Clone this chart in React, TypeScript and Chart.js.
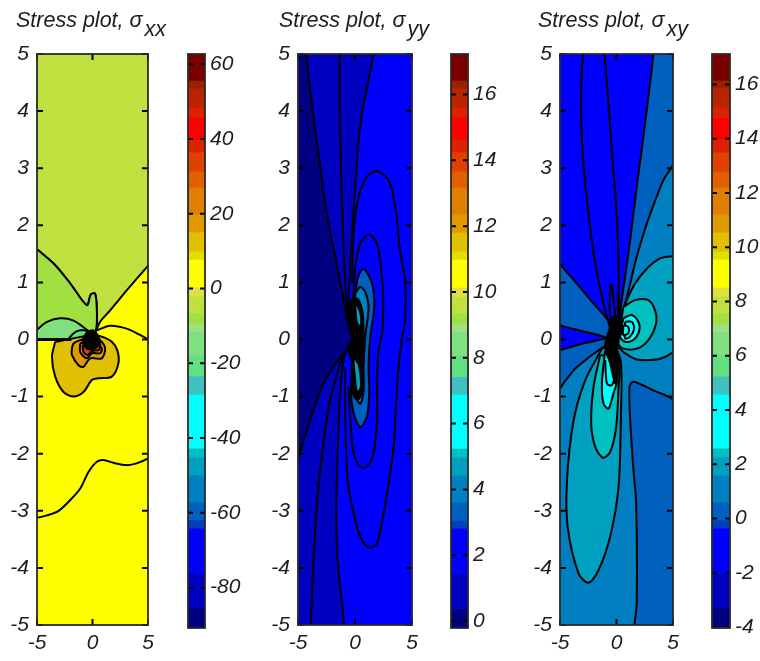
import React, { useEffect, useRef } from "react";
import { Chart, registerables } from "chart.js";

Chart.register(...registerables);

type P = number[][];

const axisTicks = [-5, -4, -3, -2, -1, 0, 1, 2, 3, 4, 5];
const xAxisTicks = [-5, 0, 5];

const barColors = ["#7a0000","#9a2000","#bb2200","#dd2200","#ff0000","#dd2200","#e04000","#e06000","#e08000","#e09a00","#e0c000","#e0e000","#ffff00","#e0e040","#c0e040","#a0e040","#a0e080","#80e080","#60e080","#40c0c0","#00ffff","#00c0c0","#00a0c0","#0080c0","#0060c0","#0040c0","#0000ff","#0000c0","#000080"];
const xxEdges = [62.75,55.7,53.6,48.5,45.8,39.9,36.5,31.4,27.1,19.9,15.1,10,7.8,0.36,-2.05,-6.6,-9.3,-11.4,-17.8,-23.4,-28.3,-42.7,-45.1,-49.9,-57.1,-61.9,-64.1,-76.1,-85.5,-90.8];
const yyEdges = [17.23,16.43,16.19,15.61,15.31,14.64,14.25,13.67,13.18,12.36,11.81,11.24,10.99,10.14,9.86,9.35,9.04,8.8,8.07,7.43,6.89,5.25,4.98,4.43,3.61,3.06,2.82,1.45,0.38,-0.21];
const xyEdges = [17.12,16.15,15.85,15.15,14.78,13.97,13.49,12.79,12.2,11.21,10.55,9.85,9.55,8.52,8.19,7.56,7.19,6.9,6.01,5.24,4.58,2.59,2.26,1.59,0.6,-0.06,-0.36,-2.02,-3.31,-4.04];
const xxBarTicks = [60,40,20,0,-20,-40,-60,-80];
const yyBarTicks = [16,14,12,10,8,6,4,2,0];
const xyBarTicks = [16,14,12,10,8,6,4,2,0,-2,-4];

const backdrop: P = [[-7,-7],[7,-7],[7,7],[-7,7]];

// sigma xx
const xxOlive: P = [[-6,1.75],[-5,1.58],[-3.5,1.33],[-2,0.98],[-0.51,0.6],[-0.15,0.79],[0.24,0.8],[0.39,0.51],[0.33,0.19],[0.1,0.05],[0.69,0.31],[1.59,0.51],[3.08,0.86],[5,1.29],[6,1.51],[6,7],[-6,7]];
const xxGreen: P = [[-6,0],[-3,0],[-0.2,0.02],[0.33,0.19],[0.39,0.51],[0.24,0.8],[-0.15,0.79],[-0.51,0.6],[-2,0.98],[-3.5,1.33],[-5,1.58],[-6,1.75]];
const xxDome: P = [[-6,0.05],[-5,0.176],[-4.1,0.31],[-2.9,0.37],[-1.7,0.33],[-0.66,0.19],[-0.06,0.08],[-1,0],[-3,0],[-6,0]];
const xxDomeInner: P = [[-2.2,0],[-1.7,0.11],[-1.1,0.16],[-0.36,0.14],[0,0.05],[-1,0]];
const xxUpperArc: P = [[0.39,0.16],[1.59,0.24],[3.08,0.19],[4.28,0.08],[5,0],[6,-0.1]];
const xxLowerCurve: P = [[-6,-3.14],[-5,-3.12],[-4.1,-3.08],[-3.05,-3],[-2,-2.81],[-1.1,-2.61],[-0.36,-2.32],[0.39,-2.14],[0.99,-2.11],[1.89,-2.16],[3.08,-2.2],[3.98,-2.17],[5,-2.08],[6,-1.95]];
const xxGold: P = [[-3.36,-0.04],[-3.65,-0.3],[-3.36,-0.65],[-2.61,-0.92],[-1.71,-1],[-0.81,-0.92],[-0.06,-0.71],[0.53,-0.68],[1.74,-0.65],[2.33,-0.42],[2.24,-0.19],[1.74,-0.04],[0.84,0.05],[0.09,0.08]];
const xxAmber: P = [[-1.86,-0.16],[-1.86,-0.27],[-1.26,-0.45],[-0.81,-0.48],[-0.21,-0.33],[0.84,-0.33],[1.14,-0.16],[0.84,-0.04],[0.24,0.04],[-0.36,0.02],[-1.11,-0.01],[-1.71,-0.07]];
const xxOrange: P = [[-1.11,-0.07],[-1.11,-0.22],[-0.51,-0.33],[-0.06,-0.24],[0.69,-0.24],[0.84,-0.16],[0.39,-0.04],[-0.36,-0.01]];
const xxRed: P = [[-0.9,-0.1],[-0.8,-0.22],[-0.45,-0.27],[0,-0.2],[0.6,-0.18],[0.6,-0.06]];
const xxBlob: P = [[-0.81,0.02],[-0.51,0.12],[0.09,0.16],[0.53,0.05],[0.69,-0.04],[0.39,-0.13],[-0.06,-0.17],[-0.51,-0.16],[-0.81,-0.07]];
const xxStep: P = [[-6,0],[-1.9,0]];

// sigma yy
const yyDark: P = [[-6,7],[3.5,7],[2.6,6],[1.64,5],[1.2,4.54],[0.76,4.13],[0.32,3.49],[0.03,2.67],[-0.26,1.86],[-0.47,1.1],[-0.56,0.4],[-0.26,0.02],[-0.94,-0.3],[-1.29,-0.95],[-1.52,-2],[-1.64,-3.05],[-1.52,-3.86],[-1.14,-4.62],[-0.94,-5],[-0.7,-6],[-0.7,-7],[-6,-7]];
const yyNavy: P = [[-6,7],[-4.5,6],[-4.27,5],[-3.92,4.36],[-3.48,3.66],[-3.04,3.02],[-2.46,2.2],[-1.73,1.45],[-0.99,0.69],[-0.64,0.34],[-0.26,0.02],[-0.76,-0.18],[-2.02,-0.51],[-2.89,-0.83],[-3.92,-1.41],[-4.94,-2.05],[-6,-2.8]];
const yyMiddleTop: P = [[-1.35,6],[-1.35,5],[-1.35,4.19],[-1.23,3.02],[-1.05,1.86],[-0.76,0.69],[-0.5,0.3]];
const yyMiddleLow: P = [[-0.7,-0.2],[-1.14,-0.33],[-1.73,-0.71],[-2.31,-1.18],[-2.89,-2],[-3.33,-2.87],[-3.68,-4.04],[-3.86,-5],[-3.95,-6]];
const yyOuterLobe: P = [[-0.26,0.99],[-0.12,1.86],[0.32,2.5],[1.05,2.85],[1.93,2.95],[2.95,2.79],[3.54,2.32],[3.91,1.62],[4.41,0.99],[4.41,0.39],[3.97,-0.19],[3.71,-0.76],[3.54,-1.36],[3.36,-1.94],[2.66,-2.87],[1.93,-3.57],[1.19,-3.64],[0.46,-3.45],[-0.12,-3.04],[-0.65,-2.46],[-0.85,-1.41],[-0.85,-0.48]];
const yyMidLobe: P = [[-0.18,0.69],[0.03,1.27],[0.46,1.68],[1.19,1.84],[1.93,1.68],[2.31,1.21],[2.48,0.69],[2.39,0.16],[2.04,-0.24],[1.93,-0.8],[1.93,-1.41],[1.63,-1.99],[1.05,-2.23],[0.46,-2.23],[-0.12,-1.99],[-0.41,-1.41],[-0.56,-0.83]];
const yyBlueLobe: P = [[0.03,0.72],[0.23,1.07],[0.75,1.24],[1.49,0.98],[1.69,0.57],[1.34,0.05],[1.19,-0.48],[1.25,-0.94],[1.05,-1.35],[0.46,-1.53],[-0.12,-1.29],[-0.35,-0.89]];
const yyTealLobe: P = [[0.03,0.81],[0.46,0.92],[0.9,0.83],[1.19,0.57],[0.9,0.05],[0.75,-0.48],[0.75,-0.89],[0.46,-1.12],[-0.12,-0.94],[-0.26,-0.77]];
const yyBlob: P = [[-0.26,0.02],[-0.7,0.37],[-0.7,0.57],[-0.12,0.72],[0.32,0.69],[0.67,0.46],[0.75,0.16],[0.75,-0.13],[0.7,-0.42],[0.61,-0.76],[0.61,-0.94],[0.18,-1.06],[-0.26,-0.89],[-0.26,-0.74],[-0.12,-0.51],[-0.41,-0.3],[-0.56,-0.19]];
const yySpeckTop: P = [[0.1,0.6],[0.4,0.45],[0.45,0.25],[0.25,0.3],[0.15,0.45]];
const yySpeckLow: P = [[-0.05,-0.35],[0.25,-0.45],[0.45,-0.8],[0.25,-0.9],[0.05,-0.6]];

// sigma xy
const xyUpper: P = [[-6,7],[6,7],[6,3.4],[5,3.05],[4.15,2.79],[3.56,2.5],[2.68,2.03],[1.79,1.45],[1.21,0.98],[0.62,0.51],[0.18,0.25],[-0.2,-0.05],[-1.15,-0.13],[-3.5,-0.48],[-4.24,-0.65],[-5,-0.86],[-6,-1.3]];
const xyLowerRight: P = [[6,-1.3],[5,-1.05],[3.26,-0.89],[1.5,-0.74],[1.15,-0.83],[1.21,-1.41],[1.5,-2.29],[1.74,-2.87],[1.79,-4.62],[1.59,-5],[1.5,-6],[6,-7]];
const xyWedge: P = [[-6,1.75],[-6,7],[3.85,7],[3.26,5],[2.82,4.25],[2.38,3.55],[1.79,2.67],[1.21,1.74],[0.76,1.1],[0.32,0.51],[0.03,0.19],[-0.4,0.1],[-0.56,0.28],[-2.03,0.63],[-3.5,0.98],[-5,1.33]];
const xyTriangle: P = [[-6,0.38],[-5,0.25],[-3.5,0.17],[-1,0.03],[-3,-0.07],[-5,-0.19],[-6,-0.27]];
const xyRay1: P = [[-2.9,6],[-2.97,5],[-3.12,4.48],[-3.06,3.49],[-2.62,2.44],[-1.88,1.33],[-1,0.51],[-0.56,0.19]];
const xyRay2: P = [[-1.3,6],[-1.06,5],[-0.85,4.48],[-0.41,3.31],[0.03,2.14],[0.18,1.27],[0.18,0.51]];
const xySpike: P = [[-0.6,0.4],[-0.56,0.95],[-0.41,0.95],[-0.12,0.41]];
const xyStem: P = [[0.17,0.81],[0.17,0.4]];
const xyRightLobe: P = [[6,1.46],[5,1.46],[3.85,1.42],[2.68,1.24],[1.65,0.98],[0.91,0.69],[0.32,0.4],[0.03,0.19],[0.03,-0.1],[0.32,-0.16],[0.62,-0.22],[1.79,-0.35],[3.56,-0.35],[4.44,-0.29],[5,-0.22],[6,-0.1]];
const xyRightCore: P = [[0.61,0.57],[1.65,0.69],[2.82,0.69],[3.41,0.51],[3.5,0.28],[2.82,-0.01],[1.8,-0.16],[0.61,-0.16],[0.17,-0.07]];
const xyRightCyan: P = [[0.61,0.37],[1.35,0.43],[1.94,0.31],[2.02,0.16],[1.5,-0.01],[0.76,-0.04],[0.32,0.05]];
const xyRightRing1: P = [[0.76,0.31],[1.35,0.31],[1.56,0.19],[1.2,0.05],[0.76,0.02]];
const xyRightRing2: P = [[0.61,0.25],[1.05,0.22],[1.05,0.11],[0.6,0.08]];
const xyLowLobe: P = [[-1.29,-0.16],[-2.76,-0.71],[-3.79,-1.41],[-4.38,-2.46],[-4.32,-3.28],[-3.35,-4.1],[-2.47,-4.26],[-1.59,-4.04],[-0.56,-3.45],[0.18,-2.58],[0.38,-1.41],[0.38,-0.39],[-0.26,-0.13]];
const xyLowCore: P = [[-1.44,-0.27],[-2.03,-0.83],[-2.24,-1.47],[-1.88,-1.88],[-1.21,-2.07],[-0.56,-1.97],[-0.03,-1.53],[0.18,-0.83],[0.18,-0.36]];
const xyLowCyan: P = [[-1,-0.19],[-1.29,-0.77],[-1.15,-1.12],[-0.71,-1.21],[-0.27,-0.94],[0.03,-0.71]];
const xyLowRing: P = [[-1,-0.36],[-0.85,-0.77],[-0.41,-0.8],[0.03,-0.54]];
const xyBlob: P = [[-0.56,0.37],[0.17,0.4],[0.47,0.25],[0.56,0.16],[0.17,0.02],[0.03,-0.13],[0.26,-0.42],[0.08,-0.65],[-0.12,-0.77],[-0.56,-0.42],[-1,-0.1],[-0.8,0.08],[-0.56,0.22]];

type Layer = { pts: P; fill?: string; width?: number; open?: boolean; noLine?: boolean };

const xxLayers: Layer[] = [
  { pts: backdrop, fill: "#ffff00", noLine: true },
  { pts: xxOlive, fill: "#c0e040" },
  { pts: xxGreen, fill: "#a0e040" },
  { pts: xxDome, fill: "#80e080" },
  { pts: xxDomeInner, fill: "#60e080" },
  { pts: xxUpperArc, open: true },
  { pts: xxLowerCurve, open: true },
  { pts: xxGold, fill: "#e0c000" },
  { pts: xxAmber, fill: "#e09a00" },
  { pts: xxOrange, fill: "#e08000" },
  { pts: xxRed, fill: "#e04000" },
  { pts: xxBlob, fill: "#000000" },
  { pts: xxStep, open: true, width: 3.2 },
];

const yyLayers: Layer[] = [
  { pts: backdrop, fill: "#0000ff", noLine: true },
  { pts: yyDark, fill: "#0000c0" },
  { pts: yyNavy, fill: "#000080" },
  { pts: yyMiddleTop, open: true },
  { pts: yyMiddleLow, open: true },
  { pts: yyOuterLobe, open: true },
  { pts: yyMidLobe, open: true },
  { pts: yyBlueLobe, fill: "#0060c0" },
  { pts: yyTealLobe, fill: "#0080c0" },
  { pts: yyBlob, fill: "#000000" },
  { pts: yySpeckTop, fill: "#00a0c0", noLine: true },
  { pts: yySpeckLow, fill: "#00a0c0", noLine: true },
];

const xyLayers: Layer[] = [
  { pts: backdrop, fill: "#0080c0", noLine: true },
  { pts: xyUpper, fill: "#0060c0" },
  { pts: xyLowerRight, fill: "#0060c0" },
  { pts: xyWedge, fill: "#0000ff" },
  { pts: xyTriangle, fill: "#0000ff" },
  { pts: xyRay1, open: true },
  { pts: xyRay2, open: true },
  { pts: xySpike, open: true },
  { pts: xyRightLobe, fill: "#00a0c0" },
  { pts: xyRightCore, fill: "#00c0c0" },
  { pts: xyRightCyan, fill: "#00ffff" },
  { pts: xyRightRing1, fill: "#00ffff" },
  { pts: xyRightRing2, fill: "#00ffff" },
  { pts: xyLowLobe, fill: "#00a0c0" },
  { pts: xyLowCore, fill: "#00c0c0" },
  { pts: xyLowCyan, fill: "#00ffff" },
  { pts: xyLowRing, open: true },
  { pts: xyBlob, fill: "#000000" },
  { pts: xyStem, open: true, width: 3.2 },
];

const FONT = "'Liberation Sans', Arial, sans-serif";
const TEXT = "#1c1c1c";
const FRAME = "#2a2a2a";
const tickFont = { family: FONT, size: 21, style: "italic" as const };

function frameTicks(len: number, xs: number[] | null) {
  return {
    id: "frameTicks",
    afterDraw(chart: any) {
      const { ctx, chartArea: a, scales } = chart;
      ctx.save();
      ctx.strokeStyle = "#000";
      ctx.lineWidth = 2;
      ctx.beginPath();
      for (const t of scales.y.ticks) {
        const p = scales.y.getPixelForValue(t.value);
        ctx.moveTo(a.left, p); ctx.lineTo(a.left + len, p);
        ctx.moveTo(a.right, p); ctx.lineTo(a.right - len, p);
      }
      if (xs) for (const v of xs) {
        const p = scales.x.getPixelForValue(v);
        ctx.moveTo(p, a.top); ctx.lineTo(p, a.top + len);
        ctx.moveTo(p, a.bottom); ctx.lineTo(p, a.bottom - len);
      }
      ctx.stroke();
      ctx.strokeStyle = FRAME;
      ctx.lineWidth = 1.8;
      ctx.strokeRect(a.left, a.top, a.right - a.left, a.bottom - a.top);
      ctx.restore();
    },
  };
}

const setTicks = (vals: number[]) => (s: any) => { s.ticks = vals.map((value) => ({ value })); };

function ContourPanel({ left, width, plotLeft, plotRight, layers }: { left: number; width: number; plotLeft: number; plotRight: number; layers: Layer[] }) {
  const ref = useRef<HTMLCanvasElement>(null);
  useEffect(() => {
    const datasets = layers.map((l) => {
      const data = (l.open ? l.pts : [...l.pts, l.pts[0]]).map(([x, y]) => ({ x, y }));
      return {
        data,
        showLine: true,
        tension: 0.3,
        capBezierPoints: false,
        pointRadius: 0,
        clip: 0,
        fill: l.fill ? "shape" : false,
        backgroundColor: l.fill ?? "transparent",
        borderColor: l.noLine ? "transparent" : "#000000",
        borderWidth: l.noLine ? 0 : l.width ?? 2,
      };
    }).reverse();
    const chart = new Chart(ref.current!, {
      type: "scatter",
      data: { datasets } as any,
      plugins: [frameTicks(6, xAxisTicks)],
      options: {
        animation: false,
        responsive: false,
        events: [],
        layout: { autoPadding: false, padding: { top: 54, right: left + width - plotRight, left: 0, bottom: 0 } },
        plugins: { legend: { display: false }, tooltip: { enabled: false }, title: { display: false } },
        scales: {
          x: {
            type: "linear", min: -5, max: 5,
            grid: { display: false, drawTicks: false }, border: { display: false },
            afterBuildTicks: setTicks(xAxisTicks),
            afterFit: (s: any) => { s.height = 36; },
            ticks: { font: tickFont, color: TEXT, padding: 6, maxRotation: 0, autoSkip: false },
          },
          y: {
            type: "linear", min: -5, max: 5,
            grid: { display: false, drawTicks: false }, border: { display: false },
            afterBuildTicks: setTicks(axisTicks),
            afterFit: (s: any) => { s.width = plotLeft - left; },
            ticks: { font: tickFont, color: TEXT, padding: 8, autoSkip: false },
          },
        },
      } as any,
    });
    return () => chart.destroy();
  }, []);
  return <canvas ref={ref} width={width} height={661} style={{ position: "absolute", left, top: 0, width, height: 661, display: "block" }} />;
}

function ColorBar({ left, width, barLeft, barRight, edges, ticks }: { left: number; width: number; barLeft: number; barRight: number; edges: number[]; ticks: number[] }) {
  const ref = useRef<HTMLCanvasElement>(null);
  useEffect(() => {
    const datasets = barColors.map((c, i) => ({
      data: [[edges[i + 1], edges[i]]],
      backgroundColor: c,
      borderWidth: 0,
      barPercentage: 1,
      categoryPercentage: 1,
    }));
    const chart = new Chart(ref.current!, {
      type: "bar",
      data: { labels: ["band"], datasets } as any,
      plugins: [frameTicks(5, null)],
      options: {
        animation: false,
        responsive: false,
        events: [],
        layout: { autoPadding: false, padding: { top: 54, bottom: 33, left: barLeft - left, right: 0 } },
        plugins: { legend: { display: false }, tooltip: { enabled: false } },
        scales: {
          x: { display: false, stacked: true },
          y: {
            position: "right", stacked: false,
            min: edges[edges.length - 1], max: edges[0],
            grid: { display: false, drawTicks: false }, border: { display: false },
            afterBuildTicks: setTicks(ticks),
            afterFit: (s: any) => { s.width = left + width - barRight; },
            ticks: { font: tickFont, color: TEXT, padding: 5, autoSkip: false },
          },
        },
      } as any,
    });
    return () => chart.destroy();
  }, []);
  return <canvas ref={ref} width={width} height={661} style={{ position: "absolute", left, top: 0, width, height: 661, display: "block" }} />;
}

function Title({ left, sub }: { left: number; sub: string }) {
  return (
    <div style={{ position: "absolute", left, top: 8, font: `italic 21.5px ${FONT}`, lineHeight: "24px", color: TEXT, whiteSpace: "nowrap" }}>
      Stress plot, σ<span style={{ position: "relative", top: 9, marginLeft: 2 }}>{sub}</span>
    </div>
  );
}

export default function App() {
  return (
    <div style={{ position: "absolute", left: 0, top: 0, width: 760, height: 661, background: "#fff", overflow: "hidden", filter: "blur(0.5px)" }}>
      <ContourPanel left={0} width={180} plotLeft={37} plotRight={148} layers={xxLayers} />
      <ColorBar left={186} width={64} barLeft={188} barRight={205} edges={xxEdges} ticks={xxBarTicks} />
      <ContourPanel left={255} width={180} plotLeft={298} plotRight={412} layers={yyLayers} />
      <ColorBar left={449} width={61} barLeft={451} barRight={468} edges={yyEdges} ticks={yyBarTicks} />
      <ContourPanel left={515} width={180} plotLeft={560} plotRight={673} layers={xyLayers} />
      <ColorBar left={710} width={50} barLeft={712} barRight={730} edges={xyEdges} ticks={xyBarTicks} />
      <Title left={16} sub="xx" />
      <Title left={279} sub="yy" />
      <Title left={538} sub="xy" />
    </div>
  );
}
